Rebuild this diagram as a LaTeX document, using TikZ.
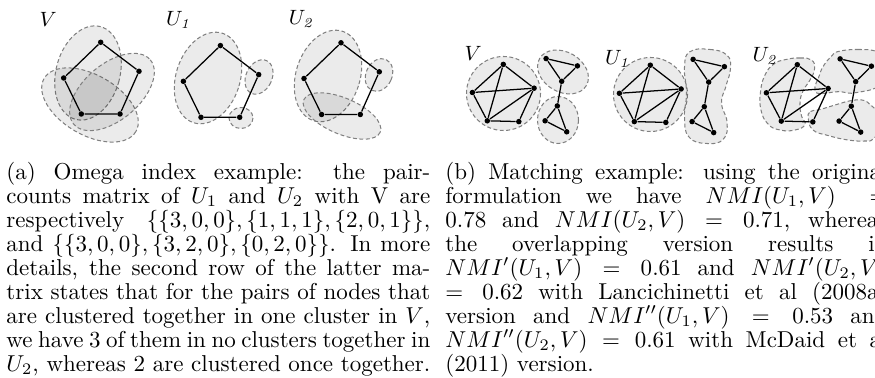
\documentclass[tikz,border=0pt]{standalone}
\usepackage{amsmath}

\newcommand{\unitpx}{0.435pt}

% pentagon of the omega example, #1 = prefix of the node names
\newcommand{\omegapenta}[1]{%
  \node[vert] (#1t) at (100.7,42.3) {};
  \node[vert] (#1r) at (139,71.3) {};
  \node[vert] (#1l) at (63.7,78) {};
  \node[vert] (#1bl) at (81.3,114) {};
  \node[vert] (#1br) at (120,114) {};
  \draw[link] (#1t) -- (#1r) -- (#1br) -- (#1bl) -- (#1l) -- (#1t);
}

% graph of the matching example, #1 = prefix of the node names
\newcommand{\matchgraph}[1]{%
  \node[vert] (#1t) at (503.3,64.4) {};
  \node[vert] (#1r) at (534.1,88.2) {};
  \node[vert] (#1l) at (472.4,92.5) {};
  \node[vert] (#1bl) at (487.3,120.8) {};
  \node[vert] (#1br) at (518.8,121.6) {};
  \node[vert] (#1a) at (546.1,58.6) {};
  \node[vert] (#1b) at (577.4,65.9) {};
  \node[vert] (#1c) at (561.7,81.3) {};
  \node[vert] (#1d) at (557.3,105.9) {};
  \node[vert] (#1e) at (545.1,120.8) {};
  \node[vert] (#1f) at (566.7,131.8) {};
  \draw[link] (#1t) -- (#1r) -- (#1br) -- (#1bl) -- (#1l) -- (#1t);
  \draw[link] (#1l) -- (#1r);
  \draw[link] (#1t) -- (#1bl) -- (#1r);
  \draw[link] (#1a) -- (#1b) -- (#1c) -- (#1a);
  \draw[link] (#1c) -- (#1d);
  \draw[link] (#1d) -- (#1e) -- (#1f) -- (#1d);
}

\begin{document}
\begin{tikzpicture}[x=\unitpx, y=-\unitpx,
    vert/.style={circle, fill=black, inner sep=0pt, minimum size=2.4pt},
    link/.style={line width=0.55pt},
    cluster/.style={draw=black!50, dash pattern=on 1.7pt off 1.1pt,
      line width=0.45pt, fill=black, fill opacity=0.08},
    lab/.style={font=\small, inner sep=0pt},
    capbox/.style={anchor=base west, inner sep=0pt}]
  \useasboundingbox (0,0) rectangle (875,378);

  % (a) omega index
  \draw[cluster, shift={(88,73)}, rotate=-15] (0,0) circle [x radius=32, y radius=48];
  \draw[cluster, shift={(90,105)}, rotate=-30] (0,0) circle [x radius=53, y radius=30];
  \draw[cluster, shift={(112,92)}, rotate=40] (0,0) circle [x radius=50, y radius=28];

  \draw[cluster, shift={(208,78)}, rotate=-18] (0,0) circle [x radius=32, y radius=47];
  \draw[cluster, shift={(259,77)}, rotate=-25] (0,0) circle [x radius=13, y radius=18];
  \draw[cluster, shift={(241,118)}] (0,0) circle [x radius=12, y radius=10.5];

  \draw[cluster, shift={(328,76)}, rotate=-18] (0,0) circle [x radius=32, y radius=47];
  \draw[cluster, shift={(379,75)}, rotate=-25] (0,0) circle [x radius=13, y radius=17];
  \draw[cluster, shift={(342,116)}, rotate=-23] (0,0) circle [x radius=41.5, y radius=18];

  \omegapenta{v}
  \begin{scope}[shift={(119.7,3.3)}]
    \omegapenta{p}
  \end{scope}
  \begin{scope}[shift={(240.3,0.5)}]
    \omegapenta{q}
  \end{scope}

  \node[lab] (labv) at (48.3,19.2) {$V$};
  \node[lab] (labp) at (179,20) {$U_{\mathit{1}}$};
  \node[lab] (labq) at (301.7,19) {$U_{\mathit{2}}$};

  % (b) matching
  \draw[cluster] (503.5,93.5) circle [radius=37];
  \draw[cluster, shift={(563,72)}, rotate=-30] (0,0) circle [x radius=27, y radius=20];
  \draw[cluster, shift={(558,120)}] (0,0) circle [x radius=20.5, y radius=23.5];

  \draw[cluster] (650.5,94.5) circle [radius=37];
  \draw[cluster] plot[smooth cycle, tension=0.8] coordinates {(690,51.7) (710,49.5)
    (726.7,55) (730.5,68) (726,86) (721.5,103) (727,122) (723.5,139) (707,143.5)
    (689,137) (684.5,117) (686.5,93) (684.5,67)};

  \draw[cluster] plot[smooth cycle, tension=0.8] coordinates {(786,59.5) (800,58)
    (811.5,60) (814.5,69) (810,80) (803,91) (800,103) (801.5,116) (805,124.5)
    (795,130) (780,130) (768,124) (761,110) (760.5,92) (765,75) (774,64)};
  \draw[cluster] plot[smooth cycle, tension=0.8] coordinates {(838.3,51.5) (858,49.5)
    (878,52) (890,62) (890,80) (875,88.3) (861.7,91.7) (851.7,93.3) (838.3,91.7)
    (825,93.3) (816.7,93) (815,86.7) (818.3,78.3) (823,66.7) (831.7,56)};
  \draw[cluster] plot[smooth cycle, tension=0.8] coordinates {(808.3,118.3) (810.5,111.5)
    (820,109.5) (835,105) (846.7,101.5) (861.7,100) (870,104.5) (877,113) (880,128)
    (873,139) (865,141) (848,140) (828,135.5) (813,130)};

  \matchgraph{m}
  \begin{scope}[shift={(147,0.8)}]
    \matchgraph{n}
  \end{scope}
  \begin{scope}[shift={(294,0.3)}]
    \matchgraph{o}
  \end{scope}

  \node[lab] (labmv) at (473.3,53) {$V$};
  \node[lab] (labmp) at (618,59) {$U_{\mathit{1}}$};
  \node[lab] (labmq) at (765.5,56) {$U_{\mathit{2}}$};

  % captions
  \node[capbox] (capa) at (6,179.3) {\parbox[t]{184.4pt}{\fontsize{10}{10.44}\selectfont
    \parfillskip=0pt
    (a) Omega index example: the pair-\linebreak
    counts matrix of $U_1$ and $U_2$ with V are\linebreak
    respectively $\{\{3,0,0\},\{1,1,1\},\{2,0,1\}\}$,\linebreak
    and $\{\{3,0,0\},\{3,2,0\},\{0,2,0\}\}$. In more\linebreak
    details, the second row of the latter ma-\linebreak
    trix states that for the pairs of nodes that\linebreak
    are clustered together in one cluster in $V$,\linebreak
    we have 3 of them in no clusters together in\linebreak
    $U_2$, whereas 2 are clustered once together.}};
  \node[capbox] (capb) at (445,179.3) {\parbox[t]{192.3pt}{\fontsize{10}{10.44}\selectfont
    (b) Matching example: using the original\linebreak
    formulation we have $NMI(U_1,V) =$\linebreak
    $0.78$ and $NMI(U_2,V) = 0.71$, whereas\linebreak
    the overlapping version results in\linebreak
    $NMI'(U_1,V) = 0.61$ and $NMI'(U_2,V)$\linebreak
    $= 0.62$ with Lancichinetti et al (2008a)\linebreak
    version and $NMI''(U_1,V) = 0.53$ and\linebreak
    $NMI''(U_2,V) = 0.61$ with McDaid et al\linebreak
    (2011) version.}};
\end{tikzpicture}
\end{document}
